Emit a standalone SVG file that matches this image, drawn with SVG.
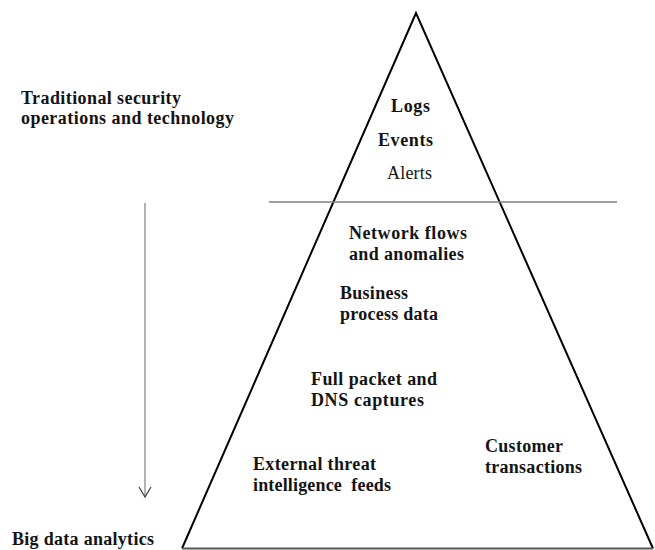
<svg xmlns="http://www.w3.org/2000/svg" width="655" height="550" viewBox="0 0 655 550">
  <style>
    .lbl { font-family: "Liberation Serif", "Times New Roman", serif; font-size: 18px; font-weight: bold; fill: #141414; }
    .reg { font-weight: normal; }
    .edge { fill: none; stroke: #000; stroke-width: 2; stroke-linejoin: miter; }
    .base { stroke: #555; stroke-width: 2; }
    .divider { stroke: #808080; stroke-width: 1.5; }
    .flow { stroke: #808080; stroke-width: 1.2; fill: none; }
  </style>
  <defs>
    <marker id="openHead" markerWidth="14" markerHeight="14" refX="12" refY="7" orient="auto" markerUnits="userSpaceOnUse">
      <path d="M2,1 L12,7 L2,13" fill="none" stroke="#444" stroke-width="1.3"/>
    </marker>
  </defs>

  <rect width="655" height="550" fill="#fff"/>

  <!-- pyramid outline -->
  <g id="pyramid">
    <polyline class="edge" points="182,548.5 416,13 653,548.5"/>
    <line class="base" x1="182" y1="548.5" x2="653" y2="548.5"/>
    <line class="divider" x1="269" y1="202" x2="617" y2="202"/>
  </g>

  <!-- direction of travel -->
  <g id="connectors">
    <line class="flow" x1="145" y1="203" x2="145" y2="497" marker-end="url(#openHead)"/>
  </g>

  <g id="traditional">
    <text class="lbl" x="21" y="104" textLength="160" lengthAdjust="spacing">Traditional security</text>
    <text class="lbl" x="21" y="124" textLength="213" lengthAdjust="spacing">operations and technology</text>
  </g>
  <g id="bigdata">
    <text class="lbl" x="12" y="545" textLength="142" lengthAdjust="spacing">Big data analytics</text>
  </g>

  <g id="logs"><text class="lbl" x="391" y="112" textLength="39" lengthAdjust="spacing">Logs</text></g>
  <g id="events"><text class="lbl" x="378" y="146" textLength="55" lengthAdjust="spacing">Events</text></g>
  <g id="alerts"><text class="lbl reg" x="387" y="179" textLength="45" lengthAdjust="spacing">Alerts</text></g>

  <g id="network">
    <text class="lbl" x="349" y="239" textLength="118" lengthAdjust="spacing">Network flows</text>
    <text class="lbl" x="349" y="260" textLength="115" lengthAdjust="spacing">and anomalies</text>
  </g>
  <g id="business">
    <text class="lbl" x="340" y="299" textLength="68" lengthAdjust="spacing">Business</text>
    <text class="lbl" x="340" y="320" textLength="98" lengthAdjust="spacing">process data</text>
  </g>
  <g id="packets">
    <text class="lbl" x="311" y="385" textLength="126" lengthAdjust="spacing">Full packet and</text>
    <text class="lbl" x="311" y="406" textLength="113" lengthAdjust="spacing">DNS captures</text>
  </g>
  <g id="threat">
    <text class="lbl" x="253" y="470" textLength="123" lengthAdjust="spacing">External threat</text>
    <text class="lbl" x="253" y="491" textLength="138" lengthAdjust="spacing" xml:space="preserve">intelligence  feeds</text>
  </g>
  <g id="customer">
    <text class="lbl" x="485" y="452" textLength="78" lengthAdjust="spacing">Customer</text>
    <text class="lbl" x="485" y="473" textLength="97" lengthAdjust="spacing">transactions</text>
  </g>
</svg>
